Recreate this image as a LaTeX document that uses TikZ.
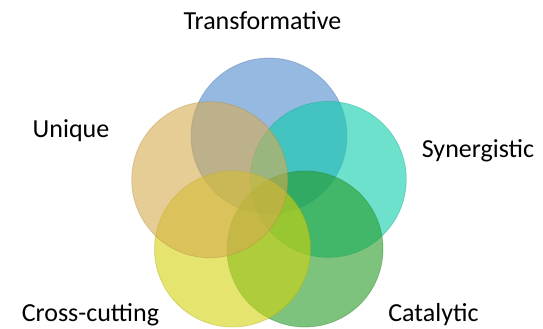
\documentclass[tikz,border=0pt]{standalone}
\usepackage{fontspec}
\setmainfont{Carlito}
\definecolor{cblue}{RGB}{80,138,205}
\definecolor{cteal}{RGB}{13,205,172}
\definecolor{cgreen}{RGB}{38,155,38}
\definecolor{cyellow}{RGB}{210,210,13}
\definecolor{corange}{RGB}{213,172,80}
\tikzset{
  venn/.style={circle, minimum size=156pt, inner sep=0pt, fill=#1, fill opacity=0.6, draw=#1!80!black, draw opacity=0.35, line width=0.8pt},
  lbl/.style={anchor=base, font=\fontsize{26}{30}\selectfont, text=black, inner sep=0pt}
}
\begin{document}
\begin{tikzpicture}[x=1pt,y=-1pt]
\useasboundingbox (0,0) rectangle (543,329);
\node[venn=cblue]   (transformative) at (269,136) {};
\node[venn=cteal]   (synergistic)    at (328.3,179.4) {};
\node[venn=cgreen]  (catalytic)      at (305,249) {};
\node[venn=cyellow] (crosscutting)   at (232.5,249) {};
\node[venn=corange] (unique)         at (209.7,179.7) {};
\node[lbl] (ltrans) at (262.5,30) {Transformative};
\node[lbl] (lsyn)   at (478,157) {Synergistic};
\node[lbl] (luniq)  at (71,137) {Unique};
\node[lbl] (lcross) at (90.5,321) {Cross-cutting};
\node[lbl] (lcat)   at (433.5,321) {Catalytic};
\end{tikzpicture}
\end{document}
